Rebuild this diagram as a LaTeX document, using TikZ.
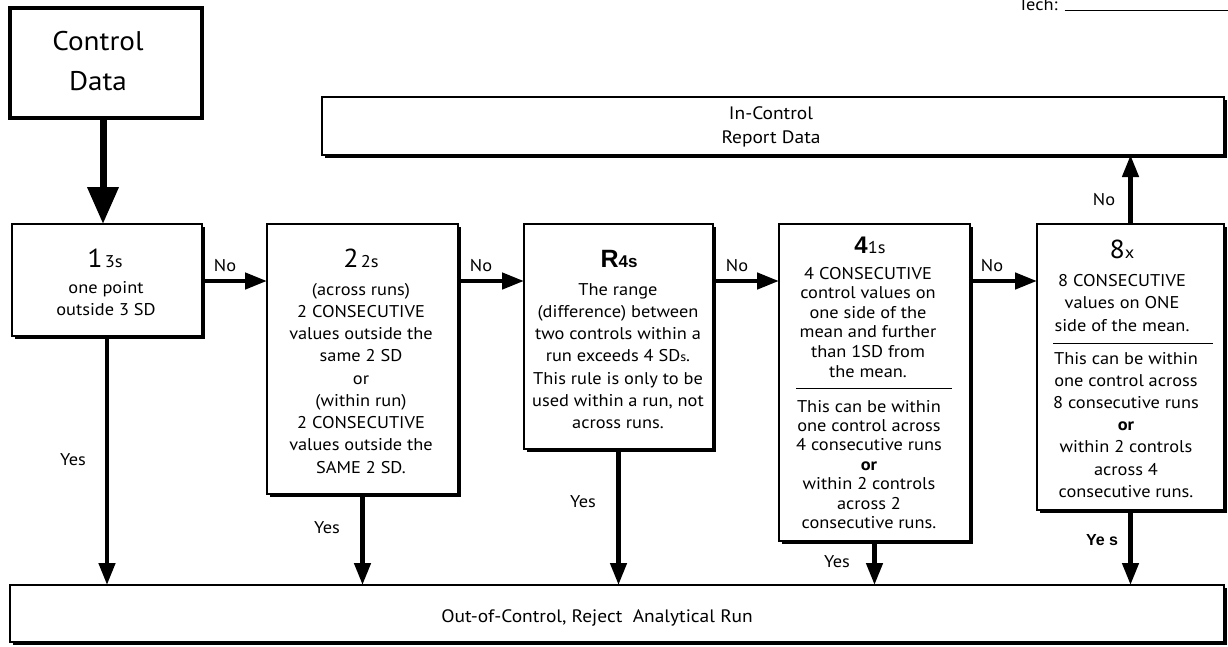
\documentclass[tikz,border=0pt]{standalone}
\usepackage{fontspec}
\setmainfont{PT Sans}[FakeStretch=1.08]
\newfontfamily\arialf{Liberation Sans}
\usetikzlibrary{arrows.meta,shadows}
\newcommand{\flA}{\rule{0pt}{14pt}}
\newcommand{\flB}{\rule{0pt}{21pt}}
\begin{document}
\begin{tikzpicture}[x=1pt,y=-1pt,
  box/.style={draw=black, line width=1.8pt, fill=white, inner sep=0pt, outer sep=0pt, anchor=north west,
    drop shadow={shadow xshift=3pt,shadow yshift=-3pt,fill=black,opacity=1}},
  startbox/.style={draw=black, line width=4pt, fill=white, inner sep=0pt, outer sep=0pt, anchor=north west},
  txt/.style={inner sep=0pt, outer sep=0pt, align=center, anchor=north},
  ttl/.style={inner sep=0pt, outer sep=0pt, anchor=base},
  lbl/.style={inner sep=0pt, outer sep=0pt, font=\fontsize{17}{17}\selectfont},
  arr/.style={line width=4.5pt, -{Triangle[length=22pt,width=16pt]}},
  bigarr/.style={line width=7pt, -{Triangle[length=37pt,width=30pt]}},
  sep/.style={line width=0.8pt}
]
\useasboundingbox (0,0) rectangle (1228,646);

% tech line
\node[ttl, font=\fontsize{17}{17}\selectfont] (tech) at (1038,10) {Tech:};
\coordinate (techend) at (1228,10);
\draw[line width=1pt] ([xshift=7pt]tech.base east) -- (techend);

% boxes
\node[startbox, minimum width=192pt, minimum height=110pt] (cd) at (10,8) {};
\node[box, minimum width=902pt, minimum height=58pt] (inc) at (322,97) {};
\node[box, minimum width=190pt, minimum height=112pt] (b1) at (12,224) {};
\node[box, minimum width=191pt, minimum height=270pt] (b2) at (267,224) {};
\node[box, minimum width=189pt, minimum height=225pt] (b3) at (524,224) {};
\node[box, minimum width=191pt, minimum height=317pt] (b4) at (779,224) {};
\node[box, minimum width=187pt, minimum height=286pt] (b5) at (1037,224) {};
\node[box, minimum width=1214pt, minimum height=57pt] (out) at (10,585) {};

% texts
\node[txt, font=\fontsize{27}{40}\selectfont] (cdt) at (98,29) {\flB Control\\Data};
\node[txt, font=\fontsize{18}{24}\selectfont] (inct) at (771,105) {\flA In-Control\\Report Data};
\node[ttl, font=\fontsize{18}{18}\selectfont] (outt) at (597,622) {Out-of-Control, Reject\ \ Analytical Run};

\node[ttl] (t1) at (105,267) {{\fontsize{26}{26}\selectfont 1}\kern2pt{\fontsize{17}{17}\selectfont 3s}};
\node[txt, font=\fontsize{17}{22}\selectfont] (x1) at (106,279) {\flA one point\\outside 3 SD};

\node[ttl] (t2) at (361,267) {{\fontsize{26}{26}\selectfont 2}\kern2pt{\fontsize{17}{17}\selectfont 2s}};
\node[txt, font=\fontsize{17}{22.25}\selectfont] (x2) at (361,281) {\flA (across runs)\\2 CONSECUTIVE\\values outside the\\same 2 SD\\or\\(within run)\\2 CONSECUTIVE\\values outside the\\SAME 2 SD.};

\node[ttl] (t3) at (619,267) {\arialf\bfseries{\fontsize{25}{25}\selectfont R}{\fontsize{17}{17}\selectfont 4s}};
\node[txt, font=\fontsize{17}{22.3}\selectfont] (x3) at (618,281) {\flA The range\\(difference) between\\two controls within a\\run exceeds 4 SD{\fontsize{13}{13}\selectfont s}.\\This rule is only to be\\used within a run, not\\across runs.};

\node[ttl] (t4) at (870,253) {{\arialf\bfseries\fontsize{24}{24}\selectfont 4}{\fontsize{17}{17}\selectfont 1s}};
\node[txt, font=\fontsize{17}{19.6}\selectfont] (x4a) at (868,265) {\flA 4 CONSECUTIVE\\control values on\\one side of the\\mean and further\\than 1SD from\\the mean.};
\node[txt, font=\fontsize{17}{19.4}\selectfont] (x4b) at (869,398) {\flA This can be within\\one control across\\4 consecutive runs\\\textbf{or}\\within 2 controls\\across 2\\consecutive runs.};
\draw[sep] (796,388) -- (952,388);

\node[ttl] (t5) at (1122,258) {{\fontsize{26}{26}\selectfont 8}{\fontsize{17}{17}\selectfont x}};
\node[txt, font=\fontsize{17}{22.5}\selectfont] (x5a) at (1122,272) {\flA 8 CONSECUTIVE\\values on ONE\\side of the mean.};
\node[txt, font=\fontsize{17}{22.2}\selectfont] (x5b) at (1126,350) {\flA This can be within\\one control across\\8 consecutive runs\\\textbf{or}\\within 2 controls\\across 4\\consecutive runs.};
\draw[sep] (1053,343) -- (1213,343);

% connectors
\coordinate (row) at (0,281);
\draw[bigarr] ([xshift=-3pt]cd.south) -- ([xshift=-3pt]cd.south |- b1.north);
\draw[arr] (b1.east |- row) -- (b2.west |- row);
\draw[arr] (b2.east |- row) -- (b3.west |- row);
\draw[arr] (b3.east |- row) -- (b4.west |- row);
\draw[arr] (b4.east |- row) -- (b5.west |- row);
\draw[arr] (b5.north) -- (b5.north |- inc.south);
\draw[arr] (b1.south) -- (b1.south |- out.north);
\draw[arr] (b2.south) -- (b2.south |- out.north);
\draw[arr] (b3.south) -- (b3.south |- out.north);
\draw[arr] (b4.south) -- (b4.south |- out.north);
\draw[arr] (b5.south) -- (b5.south |- out.north);

% labels
\node[lbl] (n1) at (225,266) {No};
\node[lbl] (n2) at (481,266) {No};
\node[lbl] (n3) at (737,266) {No};
\node[lbl] (n4) at (992,266) {No};
\node[lbl] (n5) at (1104,200) {No};
\node[lbl] (y1) at (73,460) {Yes};
\node[lbl] (y2) at (327,528) {Yes};
\node[lbl] (y3) at (583,502) {Yes};
\node[lbl] (y4) at (837,562) {Yes};
\node[lbl, font=\arialf\bfseries\fontsize{16}{16}\selectfont] (y5) at (1102,540) {Ye s};
\end{tikzpicture}
\end{document}
